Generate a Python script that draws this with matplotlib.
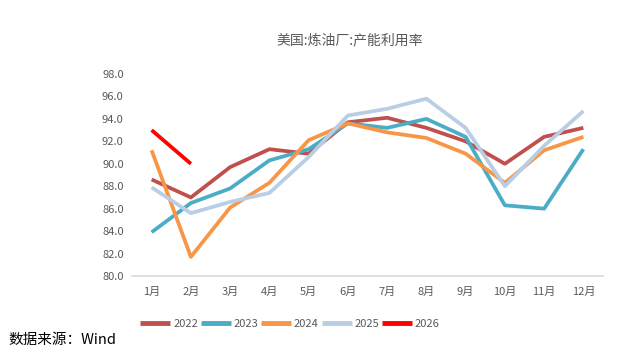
import matplotlib
matplotlib.use("Agg")
import matplotlib.pyplot as plt

plt.rcParams['font.family'] = ['Noto Sans CJK SC', 'DejaVu Sans']

months = ["1月", "2月", "3月", "4月", "5月", "6月", "7月", "8月", "9月", "10月", "11月", "12月"]
s2022 = [88.6, 87.0, 89.7, 91.3, 90.9, 93.7, 94.1, 93.2, 92.0, 90.0, 92.4, 93.2]
s2023 = [83.9, 86.5, 87.8, 90.3, 91.3, 93.6, 93.2, 94.0, 92.4, 86.3, 86.0, 91.3]
s2024 = [91.2, 81.7, 86.1, 88.3, 92.1, 93.6, 92.8, 92.3, 90.9, 88.3, 91.2, 92.4]
s2025 = [87.9, 85.6, 86.6, 87.4, 90.6, 94.3, 94.9, 95.8, 93.2, 88.0, 91.6, 94.7]
s2026 = [93.0, 90.0]
yticks = [80.0, 82.0, 84.0, 86.0, 88.0, 90.0, 92.0, 94.0, 96.0, 98.0]

series = [("2022", s2022, "#C0504D"), ("2023", s2023, "#4BACC6"),
          ("2024", s2024, "#F79646"), ("2025", s2025, "#B9CDE5"),
          ("2026", s2026, "#FF0000")]

fig = plt.figure(figsize=(6.4, 3.54), dpi=100)
ax = fig.add_axes([132/640, 1-276/354, (603-132)/640, (276-74)/354])

x = list(range(len(months)))
for name, vals, col in series:
    ax.plot(x[:len(vals)], vals, color=col, lw=2.7, label=name, solid_capstyle='butt')

ax.set_xlim(-0.5, len(months)-0.5)
ax.set_ylim(80, 98)
ax.set_yticks(yticks)
ax.set_yticklabels([f"{v:.1f}" for v in yticks])
ax.set_xticks(x)
ax.set_xticklabels(months)
ax.tick_params(length=0, labelsize=8, colors="#595959")
ax.tick_params(axis='x', pad=8)
ax.tick_params(axis='y', pad=6)
for sp in ["top", "right", "left"]:
    ax.spines[sp].set_visible(False)
ax.spines["bottom"].set_color("#D9D9D9")
ax.spines["bottom"].set_linewidth(1.2)

fig.text(350/640, 1-40/354, "美国:炼油厂:产能利用率", ha="center", va="center",
         fontsize=10, color="#595959")

leg = fig.legend(loc="center", bbox_to_anchor=(290/640, 1-324/354), ncol=5, frameon=False,
                 fontsize=8, handlelength=2.7, handletextpad=0.25, columnspacing=0.25,
                 labelcolor="#595959")
for l in leg.get_lines():
    l.set_linewidth(3.5)

fig.text(8/640, 1-340/354, "数据来源：Wind", ha="left", va="center", fontsize=10.5, color="black")

fig.savefig("out.png", dpi=100)
